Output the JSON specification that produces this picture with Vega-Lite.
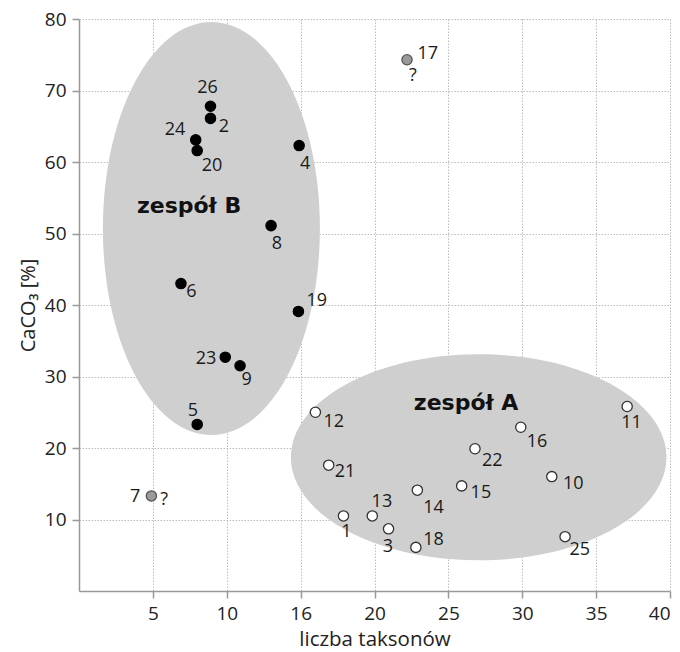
{
  "$schema": "https://vega.github.io/schema/vega-lite/v6.json",
  "width": 591,
  "height": 572,
  "autosize": {"type": "none"},
  "padding": {"left": 79, "top": 19, "right": 10, "bottom": 61},
  "background": "white",
  "config": {
    "view": {"stroke": null},
    "font": "Open Sans"
  },
  "datasets": {
    "pts": [
      {"id": "1", "g": "A", "x": 17.9, "y": 10.5, "lx": 18.1, "ly": 8.2},
      {"id": "2", "g": "B", "x": 8.9, "y": 66.1, "lx": 9.8, "ly": 64.9},
      {"id": "3", "g": "A", "x": 20.95, "y": 8.7, "lx": 20.9, "ly": 6.2},
      {"id": "4", "g": "B", "x": 14.9, "y": 62.3, "lx": 15.3, "ly": 59.7},
      {"id": "5", "g": "B", "x": 8.0, "y": 23.3, "lx": 7.7, "ly": 25.2},
      {"id": "6", "g": "B", "x": 6.9, "y": 43.0, "lx": 7.6, "ly": 41.8},
      {"id": "7", "g": "Q", "x": 4.9, "y": 13.3, "lx": 3.8, "ly": 13.2},
      {"id": "8", "g": "B", "x": 13.0, "y": 51.1, "lx": 13.4, "ly": 48.6},
      {"id": "9", "g": "B", "x": 10.9, "y": 31.5, "lx": 11.35, "ly": 29.5},
      {"id": "10", "g": "A", "x": 32.0, "y": 16.0, "lx": 33.45, "ly": 15.0},
      {"id": "11", "g": "A", "x": 37.1, "y": 25.8, "lx": 37.4, "ly": 23.45},
      {"id": "12", "g": "A", "x": 16.0, "y": 25.0, "lx": 17.25, "ly": 23.7},
      {"id": "13", "g": "A", "x": 19.85, "y": 10.5, "lx": 20.5, "ly": 12.5},
      {"id": "14", "g": "A", "x": 22.9, "y": 14.1, "lx": 24.0, "ly": 11.6},
      {"id": "15", "g": "A", "x": 25.9, "y": 14.7, "lx": 27.2, "ly": 13.7},
      {"id": "16", "g": "A", "x": 29.9, "y": 22.9, "lx": 31.0, "ly": 20.9},
      {"id": "17", "g": "Q", "x": 22.2, "y": 74.3, "lx": 23.6, "ly": 75.1},
      {"id": "18", "g": "A", "x": 22.8, "y": 6.1, "lx": 24.0, "ly": 7.1},
      {"id": "19", "g": "B", "x": 14.85, "y": 39.1, "lx": 16.1, "ly": 40.6},
      {"id": "20", "g": "B", "x": 8.0, "y": 61.6, "lx": 9.0, "ly": 59.5},
      {"id": "21", "g": "A", "x": 16.9, "y": 17.6, "lx": 18.0, "ly": 16.7},
      {"id": "22", "g": "A", "x": 26.8, "y": 19.9, "lx": 27.97, "ly": 18.2},
      {"id": "23", "g": "B", "x": 9.9, "y": 32.7, "lx": 8.6, "ly": 32.5},
      {"id": "24", "g": "B", "x": 7.9, "y": 63.1, "lx": 6.5, "ly": 64.5},
      {"id": "25", "g": "A", "x": 32.9, "y": 7.6, "lx": 33.9, "ly": 5.7},
      {"id": "26", "g": "B", "x": 8.9, "y": 67.8, "lx": 8.7, "ly": 70.3}
    ],
    "quest": [
      {"t": "?", "x": 5.77, "y": 12.7},
      {"t": "?", "x": 22.6, "y": 72.0}
    ],
    "groups": [
      {"name": "zespół B", "cx": 8.96, "cy": 50.7, "tx": 7.45, "ty": 53.8},
      {"name": "zespół A", "cx": 27.05, "cy": 18.7, "tx": 26.2, "ty": 26.3}
    ]
  },
  "layer": [
    {
      "data": {"name": "groups"},
      "transform": [{"filter": "datum.name == 'zespół B'"}],
      "mark": {
        "type": "point",
        "filled": true,
        "fill": "#cfcfcf",
        "opacity": 1,
        "strokeWidth": 0,
        "size": 170569,
        "shape": "M -0.5254 0 A 0.5254 1 0 1 0 0.5254 0 A 0.5254 1 0 1 0 -0.5254 0 Z"
      },
      "encoding": {
        "x": {"field": "cx", "type": "quantitative", "scale": {"domain": [0, 40], "nice": false, "zero": false},
          "axis": {
            "values": [5, 10, 15, 20, 25, 30, 35, 40],
            "labelExpr": "datum.value == 15 ? '16' : datum.label",
            "title": "liczba taksonów",
            "grid": true,
            "gridColor": "#bdbdbd",
            "gridDash": [1.5, 1.5],
            "gridWidth": 1,
            "domainColor": "#999999",
            "domainWidth": 1.5,
            "tickColor": "#999999",
            "tickWidth": 1.5,
            "tickSize": 7,
            "labelFontSize": 19,
            "labelColor": "#222222",
            "labelPadding": 6,
            "labelFont": "Open Sans",
            "titleFont": "Open Sans",
            "titleFontSize": 20.5,
            "titleFontWeight": "normal",
            "titleColor": "#222222",
            "titlePadding": 6
          }
        },
        "y": {"field": "cy", "type": "quantitative", "scale": {"domain": [0, 80], "nice": false, "zero": false},
          "axis": {
            "values": [10, 20, 30, 40, 50, 60, 70, 80],
            "title": "CaCO₃ [%]",
            "grid": true,
            "gridColor": "#bdbdbd",
            "gridDash": [1.5, 1.5],
            "gridWidth": 1,
            "domainColor": "#999999",
            "domainWidth": 1.5,
            "tickColor": "#999999",
            "tickWidth": 1.5,
            "tickSize": 7,
            "labelFontSize": 19,
            "labelColor": "#222222",
            "labelPadding": 6,
            "labelFont": "Open Sans",
            "titleFont": "Open Sans",
            "titleFontSize": 20,
            "titleFontWeight": "normal",
            "titleColor": "#222222",
            "titlePadding": 6
          }
        }
      }
    },
    {
      "data": {"name": "groups"},
      "transform": [{"filter": "datum.name == 'zespół A'"}],
      "mark": {
        "type": "point",
        "filled": true,
        "fill": "#cfcfcf",
        "opacity": 1,
        "strokeWidth": 0,
        "size": 141075,
        "shape": "M -1 0 A 1 0.5485 0 1 0 1 0 A 1 0.5485 0 1 0 -1 0 Z"
      },
      "encoding": {
        "x": {"field": "cx", "type": "quantitative"},
        "y": {"field": "cy", "type": "quantitative"}
      }
    },
    {
      "data": {"name": "groups"},
      "mark": {"type": "text", "font": "DejaVu Sans", "fontWeight": "bold", "fontSize": 22, "color": "#111111", "align": "center", "baseline": "middle"},
      "encoding": {
        "x": {"field": "tx", "type": "quantitative"},
        "y": {"field": "ty", "type": "quantitative"},
        "text": {"field": "name"}
      }
    },
    {
      "data": {"name": "pts"},
      "mark": {"type": "point", "filled": true, "opacity": 1, "size": 105, "strokeWidth": 1.3},
      "encoding": {
        "x": {"field": "x", "type": "quantitative"},
        "y": {"field": "y", "type": "quantitative"},
        "fill": {"field": "g", "type": "nominal", "scale": {"domain": ["A", "B", "Q"], "range": ["#ffffff", "#000000", "#9a9a9a"]}, "legend": null},
        "stroke": {"field": "g", "type": "nominal", "scale": {"domain": ["A", "B", "Q"], "range": ["#333333", "#000000", "#555555"]}, "legend": null}
      }
    },
    {
      "data": {"name": "pts"},
      "mark": {"type": "text", "fontSize": 18, "color": "#1a1a1a", "align": "center", "baseline": "middle", "font": "Open Sans"},
      "encoding": {
        "x": {"field": "lx", "type": "quantitative"},
        "y": {"field": "ly", "type": "quantitative"},
        "text": {"field": "id"}
      }
    },
    {
      "data": {"name": "quest"},
      "mark": {"type": "text", "fontSize": 18, "color": "#1a1a1a", "align": "center", "baseline": "middle", "font": "Open Sans"},
      "encoding": {
        "x": {"field": "x", "type": "quantitative"},
        "y": {"field": "y", "type": "quantitative"},
        "text": {"field": "t"}
      }
    }
  ]
}
